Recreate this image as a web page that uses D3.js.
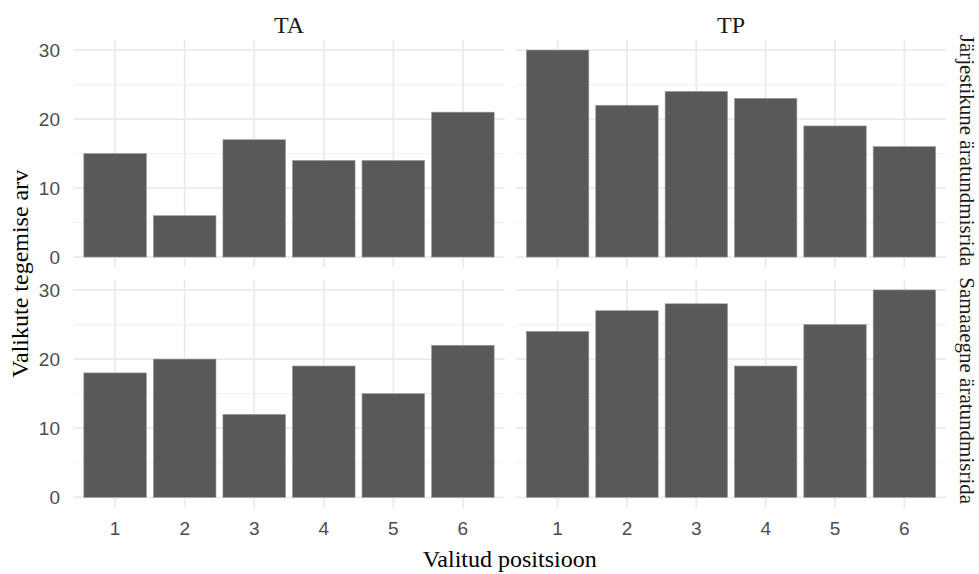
<!DOCTYPE html>
<html>
<head>
<meta charset="utf-8">
<script src="https://cdn.jsdelivr.net/npm/d3@7"></script>
<style>
  html, body { margin: 0; padding: 0; background: #ffffff; }
  svg { display: block; }
</style>
</head>
<body>
<svg id="chart" width="979" height="574"></svg>
<script>
// ---- data ----
const positions = ["1", "2", "3", "4", "5", "6"];
const columnFacets = ["TA", "TP"];
const rowFacets = ["Järjestikune äratundmisrida", "Samaaegne äratundmisrida"];
const taJarjestikune = [15, 6, 17, 14, 14, 21];
const tpJarjestikune = [30, 22, 24, 23, 19, 16];
const taSamaaegne = [18, 20, 12, 19, 15, 22];
const tpSamaaegne = [24, 27, 28, 19, 25, 30];
const yTicks = [0, 10, 20, 30];
const yMinorTicks = [5, 15, 25];
const xTitle = "Valitud positsioon";
const yTitle = "Valikute tegemise arv";

const panelValues = [
  [taJarjestikune, tpJarjestikune],
  [taSamaaegne, tpSamaaegne]
];

// ---- layout ----
const svg = d3.select("#chart");
const colX = [[73.4, 504.6], [516, 946]];
const rowY = [[39.7, 267.4], [279.6, 507.7]];

const serif = "'Liberation Serif', 'DejaVu Serif', serif";
const sans = "'Liberation Sans', Arial, sans-serif";

for (let r = 0; r < 2; r++) {
  for (let c = 0; c < 2; c++) {
    const x = d3.scaleBand().domain(positions).range(colX[c]).paddingInner(0.1).paddingOuter(0.15);
    const y = d3.scaleLinear().domain([-1.5, 31.5]).range([rowY[r][1], rowY[r][0]]);
    const g = svg.append("g");
    // minor grid
    g.selectAll(".minor").data(yMinorTicks).enter().append("line")
      .attr("x1", colX[c][0]).attr("x2", colX[c][1])
      .attr("y1", d => y(d)).attr("y2", d => y(d))
      .attr("stroke", "#f2f2f2").attr("stroke-width", 1.2);
    // major grid y
    g.selectAll(".major").data(yTicks).enter().append("line")
      .attr("x1", colX[c][0]).attr("x2", colX[c][1])
      .attr("y1", d => y(d)).attr("y2", d => y(d))
      .attr("stroke", "#ebebeb").attr("stroke-width", 1.8);
    // major grid x
    g.selectAll(".xg").data(positions).enter().append("line")
      .attr("x1", d => x(d) + x.bandwidth() / 2).attr("x2", d => x(d) + x.bandwidth() / 2)
      .attr("y1", rowY[r][0]).attr("y2", rowY[r][1])
      .attr("stroke", "#ebebeb").attr("stroke-width", 1.8);
    // bars
    const vals = panelValues[r][c];
    g.selectAll("rect").data(positions.map((p, i) => ({p, v: vals[i]}))).enter().append("rect")
      .attr("x", d => x(d.p)).attr("width", x.bandwidth())
      .attr("y", d => y(d.v)).attr("height", d => y(0) - y(d.v))
      .attr("fill", "#595959").attr("stroke", "#9a9a9a").attr("stroke-width", 0.6);

    // y tick labels (left column only)
    if (c === 0) {
      g.selectAll(".yt").data(yTicks).enter().append("text")
        .attr("x", 60).attr("y", d => y(d)).attr("dy", "0.36em")
        .attr("text-anchor", "end").attr("fill", "#4d4d4d")
        .style("font-family", sans).style("font-size", "19px")
        .text(d => d);
    }
    // x tick labels (bottom row only)
    if (r === 1) {
      g.selectAll(".xt").data(positions).enter().append("text")
        .attr("x", d => x(d) + x.bandwidth() / 2).attr("y", 535)
        .attr("text-anchor", "middle").attr("fill", "#4d4d4d")
        .style("font-family", sans).style("font-size", "19px")
        .text(d => d);
    }
    // column strips
    if (r === 0) {
      svg.append("text")
        .attr("x", (colX[c][0] + colX[c][1]) / 2).attr("y", 33)
        .attr("text-anchor", "middle").attr("fill", "#1a1a1a")
        .style("font-family", serif).style("font-size", "24px")
        .text(columnFacets[c]);
    }
    // row strips
    if (c === 1) {
      const cy = (rowY[r][0] + rowY[r][1]) / 2 - 3;
      svg.append("text")
        .attr("transform", `translate(960,${cy}) rotate(90)`)
        .attr("text-anchor", "middle").attr("fill", "#1a1a1a")
        .style("font-family", serif).style("font-size", "21px")
        .text(rowFacets[r]);
    }
  }
}

// axis titles
svg.append("text")
  .attr("x", (colX[0][0] + colX[1][1]) / 2).attr("y", 567)
  .attr("text-anchor", "middle").attr("fill", "#000")
  .style("font-family", serif).style("font-size", "24px")
  .text(xTitle);
svg.append("text")
  .attr("transform", `translate(28,${(rowY[0][0] + rowY[1][1]) / 2}) rotate(-90)`)
  .attr("text-anchor", "middle").attr("fill", "#000")
  .style("font-family", serif).style("font-size", "24px")
  .text(yTitle);
</script>
</body>
</html>
